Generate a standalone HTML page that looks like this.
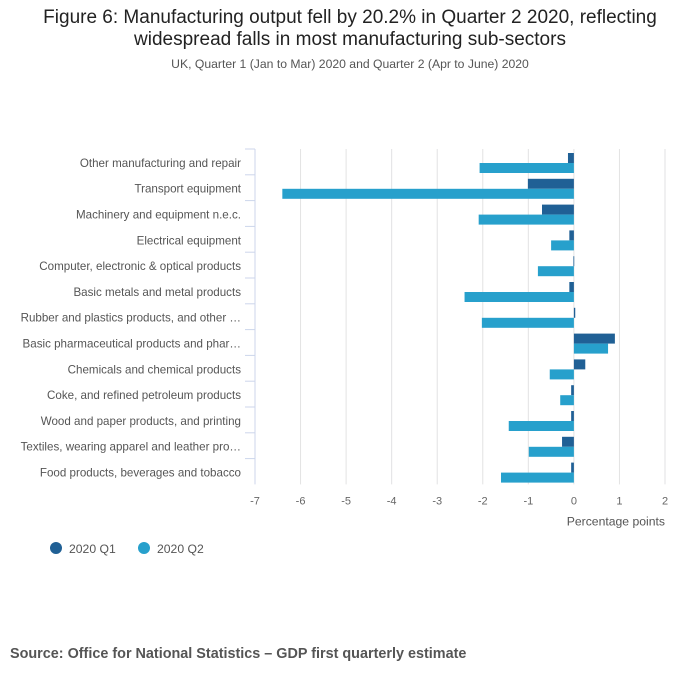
<!DOCTYPE html>
<html><head><meta charset="utf-8"><style>
body{margin:0;background:#fff;font-family:"Liberation Sans","DejaVu Sans",sans-serif;}
#wrap{position:relative;width:700px;height:682px;overflow:hidden;}
.t{position:absolute;left:0;width:700px;text-align:center;}
</style></head><body>
<div id="wrap">
<div class="t" style="top:7px;font-size:19px;line-height:22px;color:#222;">Figure 6: Manufacturing output fell by 20.2% in Quarter 2 2020, reflecting<br>widespread falls in most manufacturing sub-sectors</div>
<div class="t" style="top:57px;font-size:12.2px;color:#555;">UK, Quarter 1 (Jan to Mar) 2020 and Quarter 2 (Apr to June) 2020</div>
<svg id="chart" width="700" height="682" style="position:absolute;left:0;top:0"></svg>
<div style="position:absolute;left:10px;top:646px;font-size:14.4px;font-weight:bold;color:#555;">Source: Office for National Statistics – GDP first quarterly estimate</div>
</div>
<script>
const categories=["Other manufacturing and repair","Transport equipment","Machinery and equipment n.e.c.","Electrical equipment","Computer, electronic & optical products","Basic metals and metal products","Rubber and plastics products, and other …","Basic pharmaceutical products and phar…","Chemicals and chemical products","Coke, and refined petroleum products","Wood and paper products, and printing","Textiles, wearing apparel and leather pro…","Food products, beverages and tobacco"];
const q1Values=[-0.13,-1.01,-0.7,-0.1,-0.01,-0.1,0.03,0.9,0.25,-0.06,-0.06,-0.26,-0.06];
const q2Values=[-2.07,-6.4,-2.09,-0.5,-0.79,-2.4,-2.02,0.75,-0.53,-0.3,-1.43,-0.99,-1.6];
const xTicks=[-7,-6,-5,-4,-3,-2,-1,0,1,2];
const seriesNames=["2020 Q1","2020 Q2"];
const colors=["#206095","#27a0cc"];
const svg=document.getElementById('chart');const NS='http://www.w3.org/2000/svg';
const x0=255,x1=665,vmin=-7,vmax=2,top0=149,rowH=25.8;
const xs=v=>x0+(v-vmin)/(vmax-vmin)*(x1-x0);
function mk(t,a,p){const e=document.createElementNS(NS,t);for(const k in a)e.setAttribute(k,a[k]);(p||svg).appendChild(e);return e;}
const bottom=top0+rowH*categories.length;
xTicks.forEach(v=>{
 if(v!==vmin){const g=mk('line',{x1:xs(v),x2:xs(v),y1:top0,y2:bottom,stroke:'#e2e2e3','stroke-width':1});
 
 }
 const t=mk('text',{x:xs(v),y:bottom+20,'text-anchor':'middle','font-size':11,fill:'#666'});t.textContent=v;
 
 
});
const ax=mk('line',{x1:x0,x2:x0,y1:top0,y2:bottom,stroke:'#ccd6eb','stroke-width':1});


categories.forEach((c,i)=>{
 const y=top0+i*rowH;
 const tk=mk('line',{x1:x0-10,x2:x0,y1:y,y2:y,stroke:'#ccd6eb'});
 
 
 const t=mk('text',{x:241,y:y+rowH/2+5,'text-anchor':'end','font-size':11.6,fill:'#555'});t.textContent=c;
 
 
 [q1Values[i],q2Values[i]].forEach((v,s)=>{
  const a=xs(Math.min(0,v)),b=xs(Math.max(0,v));
  const r=mk('rect',{x:a,y:y+4+s*10,width:Math.max(b-a,0.8),height:10,fill:colors[s]});
  
  
 });
});
const xl=mk('text',{x:665,y:bottom+41,'text-anchor':'end','font-size':12.2,fill:'#555'});xl.textContent='Percentage points';


[[56,69],[144,157]].forEach((p,s)=>{
 const c=mk('circle',{cx:p[0],cy:548,r:6,fill:colors[s]});
 
 
 const t=mk('text',{x:p[1],y:553,'font-size':12.2,fill:'#555'});t.textContent=seriesNames[s];
 
 
});
</script>
</body></html>
